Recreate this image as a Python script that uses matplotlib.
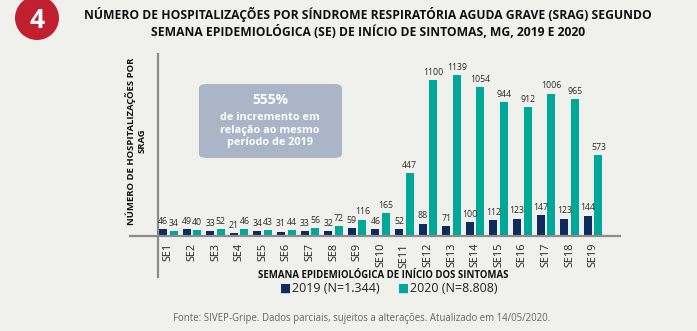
import numpy as np
import matplotlib.pyplot as plt
from matplotlib.patches import Circle, FancyBboxPatch

# dados
semanas = ['SE%d' % i for i in range(1, 20)]
casos_2019 = [46, 49, 33, 21, 34, 31, 33, 32, 59, 46, 52, 88, 71, 100, 112, 123, 147, 123, 144]
casos_2020 = [34, 40, 52, 46, 43, 44, 56, 72, 116, 165, 447, 1100, 1139, 1054, 944, 912, 1006, 965, 573]
legenda = ['2019 (N=1.344)', '2020 (N=8.808)']

cor_2019 = '#0f2a5f'
cor_2020 = '#00a89a'
cor_fundo = '#f0f0ed'
cor_eixo = '#8c8c8c'

plt.rcParams['font.family'] = ['Open Sans', 'DejaVu Sans']

W, H = 697, 331
fig = plt.figure(figsize=(W / 100, H / 100), dpi=100, facecolor=cor_fundo)

# eixo: y=236 px base, y=54 px topo, x de 158 a 620 px
ax = fig.add_axes([158 / W, 1 - 236 / H, (620 - 158) / W, (236 - 54) / H])
ax.set_facecolor('none')

x = np.arange(len(semanas))
larg = 0.34
off = 0.225
b1 = ax.bar(x - off, casos_2019, larg, color=cor_2019)
b2 = ax.bar(x + off, casos_2020, larg, color=cor_2020)

for rect, v in zip(b1, casos_2019):
    ax.text(rect.get_x() + rect.get_width() / 2, v + 22, str(v), ha='center', va='bottom',
            fontsize=6.3, color='#2a2a2a')
for rect, v in zip(b2, casos_2020):
    ax.text(rect.get_x() + rect.get_width() / 2, v + 22, str(v), ha='center', va='bottom',
            fontsize=6.3, color='#2a2a2a')

ax.set_xlim(-0.44, 19.14)
ax.set_ylim(0, 1285)
for s in ax.spines.values():
    s.set_visible(False)
ax.set_yticks([])
ax.set_xticks(x)
ax.set_xticklabels(semanas, rotation=90, fontsize=7.8, color='#222222')
ax.tick_params(axis='x', length=0, pad=5)

# linhas dos eixos (estendidas como no original)
ax.plot([-0.06, 1.0], [0, 0], transform=ax.get_yaxis_transform(), color=cor_eixo,
        lw=1.6, clip_on=False)
ax.plot([-0.44, -0.44], [-0.225, 1.0], transform=ax.get_xaxis_transform(), color=cor_eixo,
        lw=1.6, clip_on=False)

ax.set_xlabel('SEMANA EPIDEMIOLÓGICA DE INÍCIO DOS SINTOMAS', fontsize=6.9,
              fontweight='bold', color='#111111')
ax.xaxis.set_label_coords((383 - 158) / (620 - 158), -(270 - 236) / (236 - 54))

fig.text(136 / W, 1 - 141 / H, 'NÚMERO DE HOSPITALIZAÇÕES POR\nSRAG', rotation=90,
         ha='center', va='center', fontsize=6.8, fontweight='bold', color='#111111',
         linespacing=1.25)

# caixa de destaque
caixa = FancyBboxPatch((199 / W, 1 - 158 / H), 143 / W, 74 / H,
                       boxstyle='round,pad=0,rounding_size=0.012', transform=fig.transFigure,
                       facecolor='#aab5c7', edgecolor='none')
fig.patches.append(caixa)
fig.text(270 / W, 1 - 100 / H, '555%', ha='center', va='center', fontsize=10,
         fontweight='bold', color='white')
fig.text(270 / W, 1 - 130 / H, 'de incremento em\nrelação ao mesmo\nperíodo de 2019',
         ha='center', va='center', fontsize=7.8, fontweight='bold', color='white',
         linespacing=1.2)

# selo com o numero
selo = Circle((37 / 100, (H - 18) / 100), 22 / 100, transform=fig.dpi_scale_trans,
              facecolor='#c0202f', edgecolor='none')
fig.patches.append(selo)
fig.text(37 / W, 1 - 21 / H, '4', ha='center', va='center', fontsize=19,
         fontweight='bold', color='white')

fig.text(368 / W, 1 - 23 / H,
         'NÚMERO DE HOSPITALIZAÇÕES POR SÍNDROME RESPIRATÓRIA AGUDA GRAVE (SRAG) SEGUNDO\n'
         'SEMANA EPIDEMIOLÓGICA (SE) DE INÍCIO DE SINTOMAS, MG, 2019 E 2020',
         ha='center', va='center', fontsize=8.7, fontweight='bold', color='#111111',
         linespacing=1.25)

# legenda
fig.text(280 / W, 1 - 288 / H, '■', ha='left', va='center', fontsize=8.5, color=cor_2019,
         family=['DejaVu Sans'])
fig.text(292 / W, 1 - 288 / H, legenda[0], ha='left', va='center', fontsize=9, color='#222222')
fig.text(398 / W, 1 - 288 / H, '■', ha='left', va='center', fontsize=8.5, color=cor_2020,
         family=['DejaVu Sans'])
fig.text(410 / W, 1 - 288 / H, legenda[1], ha='left', va='center', fontsize=9, color='#222222')

fig.text(362 / W, 1 - 318 / H,
         'Fonte: SIVEP-Gripe. Dados parciais, sujeitos a alterações. Atualizado em 14/05/2020.',
         ha='center', va='center', fontsize=6.9, color='#666666')

fig.savefig('out.png', dpi=100, facecolor=cor_fundo)
